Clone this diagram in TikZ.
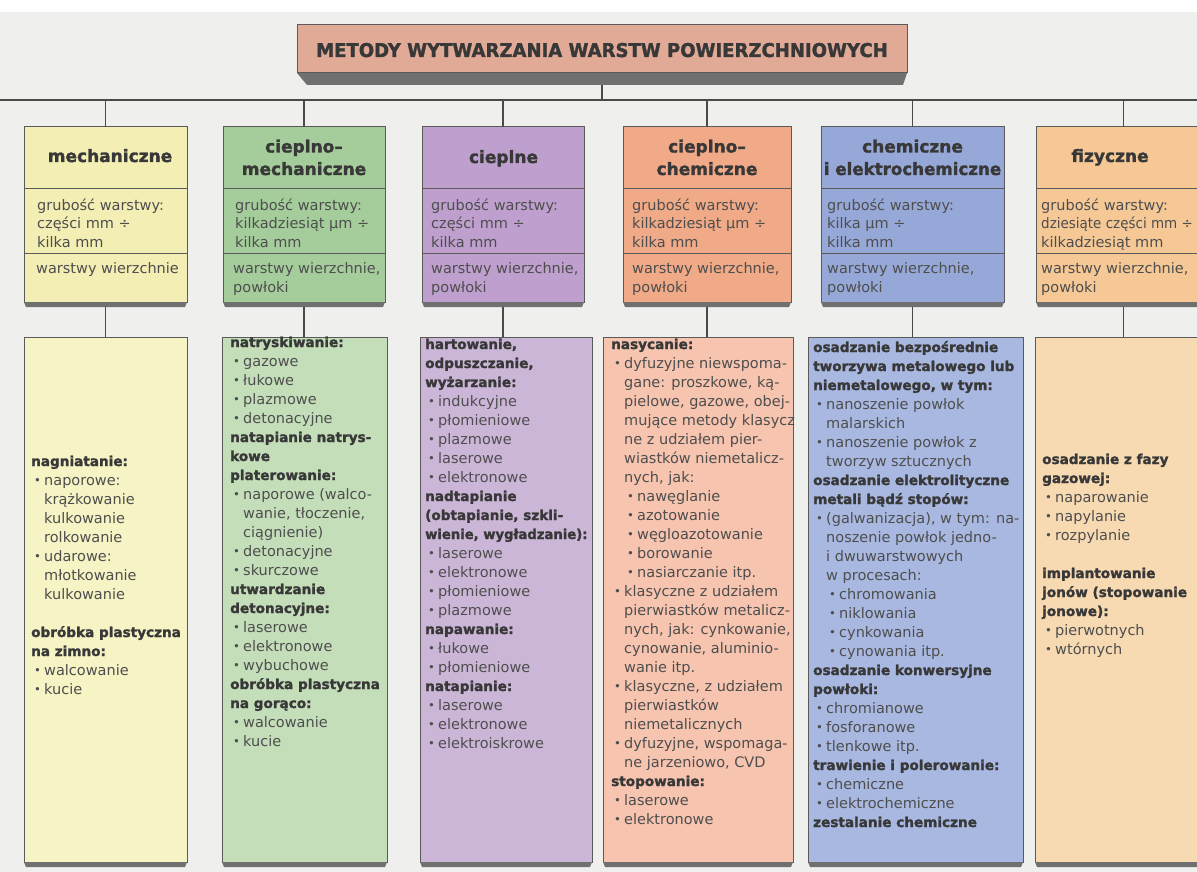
\documentclass[tikz,border=0pt]{standalone}
\usepackage{fontspec}
\setmainfont{DejaVu Sans}
\newfontfamily\heavyfont{DejaVu Sans}[UprightFeatures={FakeBold=1.6}, BoldFeatures={FakeBold=1.6}]
\usetikzlibrary{calc}
\definecolor{bgc}{HTML}{EFEFED}
\definecolor{linec}{HTML}{4A4A4A}
\definecolor{boxline}{HTML}{5A5A5A}
\definecolor{lipc}{HTML}{707070}
\definecolor{hdc}{HTML}{383838}
\definecolor{bodyc}{HTML}{4E4E4E}
\definecolor{titlec}{HTML}{E0AA96}
\definecolor{yH}{HTML}{F3EEB4}\definecolor{yB}{HTML}{F6F3C4}
\definecolor{gH}{HTML}{A5CD9B}\definecolor{gB}{HTML}{C4DEBA}
\definecolor{pH}{HTML}{BE9FCD}\definecolor{pB}{HTML}{CCB6D8}
\definecolor{oH}{HTML}{F0AA87}\definecolor{oB}{HTML}{F6C4AF}
\definecolor{bH}{HTML}{96A8D7}\definecolor{bB}{HTML}{A8B8E0}
\definecolor{tH}{HTML}{F5C896}\definecolor{tB}{HTML}{F7D9B2}
\newcommand\HD[1]{{\heavyfont\fontsize{13.6}{19}\selectfont\bfseries\color{hdc}#1}}
\newcommand\BU{\hspace*{3pt}\makebox[10pt][l]{\raisebox{0.6pt}{\scalebox{0.8}{•}}}}
\newcommand\CT{\hspace*{13pt}}
\newcommand\SBU{\hspace*{16pt}\makebox[10pt][l]{\raisebox{0.6pt}{\scalebox{0.8}{•}}}}
\newcommand\LIP[1]{\fill[lipc] (#1.south west) -- (#1.south east) -- ([shift={(-2pt,-5pt)}]#1.south east) -- ([shift={(2pt,-5pt)}]#1.south west) -- cycle;}
\tikzset{
  sec/.style={draw=boxline, line width=1pt, inner sep=0pt, outer sep=0pt, anchor=north west},
  conn/.style={draw=linec, line width=1.2pt},
  ttl/.style={font=\heavyfont\fontsize{17}{22.5}\selectfont\bfseries, text=hdc, inner sep=0pt, anchor=base},
  htxt/.style={font=\fontsize{14.5}{18.5}\selectfont, text=bodyc, inner sep=0pt, anchor=base west},
  btxt/.style={font=\fontsize{14.5}{19}\selectfont, text=bodyc, inner sep=0pt, anchor=base west},
}
\begin{document}
\begin{tikzpicture}[x=1pt,y=-1pt]
\useasboundingbox (0,0) rectangle (1197,872);
\clip (0,0) rectangle (1197,872);
\fill[bgc] (0,0) rectangle (1197,872);
\fill[white] (0,0) rectangle (1197,12);

% title
\fill[lipc] (297,73) -- (907,73) -- (903,85) -- (307,85) -- cycle;
\node[sec, fill=titlec, minimum width=610pt, minimum height=48pt] (title) at (297,25) {};
\node[anchor=base, inner sep=0pt, text=hdc, font=\heavyfont\fontsize{19}{22}\selectfont\bfseries] (titletxt) at (602,57)
  {\scalebox{0.95}[1]{METODY WYTWARZANIA WARSTW POWIERZCHNIOWYCH}};

% headers
\newcommand\HEAD[4]{%
  \node[sec, fill=#4, minimum width=#3pt, minimum height=61pt] (#1t) at (#2,127) {};
  \node[sec, fill=#4, minimum width=#3pt, minimum height=65pt] (#1g) at (#2,188) {};
  \node[sec, fill=#4, minimum width=#3pt, minimum height=49pt] (#1w) at (#2,253) {};
  \LIP{#1w}}
\HEAD{h1}{24}{163}{yH}
\HEAD{h2}{223}{162}{gH}
\HEAD{h3}{422}{162}{pH}
\HEAD{h4}{623}{168}{oH}
\HEAD{h5}{821}{183}{bH}
\HEAD{h6}{1036}{175}{tH}

% bottom boxes
\newcommand\BOT[4]{%
  \node[sec, fill=#4, minimum width=#3pt, minimum height=525pt] (#1) at (#2,337) {};
  \LIP{#1}}
\BOT{b1}{24}{163}{yB}
\BOT{b2}{222}{165}{gB}
\BOT{b3}{420}{172}{pB}
\BOT{b4}{603}{190}{oB}
\BOT{b5}{808}{215}{bB}
\BOT{b6}{1035}{175}{tB}

% connectors
\coordinate (busL) at (0,100);
\coordinate (busR) at (1197,100);
\draw[conn] (busL) -- (busR);
\draw[conn] ([yshift=-12pt]title.south) -- (title.south |- busL);
\foreach \i in {1,...,6}{
  \draw[conn] (h\i t.north) -- (h\i t.north |- busL);
  \draw[conn] ([yshift=-5pt]h\i w.south) -- (h\i w.south |- b\i.north);
}

% header titles
\node[ttl] (l1) at (110,162) {mechaniczne};
\node[ttl] (l2) at (304,152.5) {\begin{tabular}[t]{@{}c@{}}cieplno–\\mechaniczne\end{tabular}};
\node[ttl] (l3) at (503.5,163) {cieplne};
\node[ttl] (l4) at (707,152.5) {\begin{tabular}[t]{@{}c@{}}cieplno–\\chemiczne\end{tabular}};
\node[ttl] (l5) at (912.5,152.5) {\begin{tabular}[t]{@{}c@{}}chemiczne\\\scalebox{0.98}[1]{i elektrochemiczne}\end{tabular}};
\node[ttl] (l6) at (1110,162) {fizyczne};

% header thickness
\node[htxt] (g1) at (37,210) {\begin{tabular}[t]{@{}l@{}}grubość warstwy:\\części mm ÷\\kilka mm\end{tabular}};
\node[htxt] (g2) at (235,210) {\begin{tabular}[t]{@{}l@{}}grubość warstwy:\\kilkadziesiąt µm ÷\\kilka mm\end{tabular}};
\node[htxt] (g3) at (431,210) {\begin{tabular}[t]{@{}l@{}}grubość warstwy:\\części mm ÷\\kilka mm\end{tabular}};
\node[htxt] (g4) at (632,210) {\begin{tabular}[t]{@{}l@{}}grubość warstwy:\\kilkadziesiąt µm ÷\\kilka mm\end{tabular}};
\node[htxt] (g5) at (827,210) {\begin{tabular}[t]{@{}l@{}}grubość warstwy:\\kilka µm ÷\\kilka mm\end{tabular}};
\node[htxt] (g6) at (1041,210) {\begin{tabular}[t]{@{}l@{}}grubość warstwy:\\\scalebox{0.93}[1]{dziesiąte części mm ÷}\\kilkadziesiąt mm\end{tabular}};

% header layer type
\node[btxt] (w1) at (36,273) {warstwy wierzchnie};
\node[btxt] (w2) at (233,273) {\begin{tabular}[t]{@{}l@{}}warstwy wierzchnie,\\powłoki\end{tabular}};
\node[btxt] (w3) at (431,273) {\begin{tabular}[t]{@{}l@{}}warstwy wierzchnie,\\powłoki\end{tabular}};
\node[btxt] (w4) at (632,273) {\begin{tabular}[t]{@{}l@{}}warstwy wierzchnie,\\powłoki\end{tabular}};
\node[btxt] (w5) at (827,273) {\begin{tabular}[t]{@{}l@{}}warstwy wierzchnie,\\powłoki\end{tabular}};
\node[btxt] (w6) at (1041,273) {\begin{tabular}[t]{@{}l@{}}warstwy wierzchnie,\\powłoki\end{tabular}};

% bottom texts
\node[btxt] (t1) at (31,466) {\begin{tabular}[t]{@{}l@{}}
\HD{nagniatanie:}\\
\BU naporowe:\\
\CT krążkowanie\\
\CT kulkowanie\\
\CT rolkowanie\\
\BU udarowe:\\
\CT młotkowanie\\
\CT kulkowanie\\
\\
\HD{obróbka plastyczna}\\
\HD{na zimno:}\\
\BU walcowanie\\
\BU kucie
\end{tabular}};

\node[btxt] (t2) at (230,347) {\begin{tabular}[t]{@{}l@{}}
\HD{natryskiwanie:}\\
\BU gazowe\\
\BU łukowe\\
\BU plazmowe\\
\BU detonacyjne\\
\HD{natapianie natrys-}\\
\HD{kowe}\\
\HD{platerowanie:}\\
\BU naporowe (walco-\\
\CT wanie, tłoczenie,\\
\CT ciągnienie)\\
\BU detonacyjne\\
\BU skurczowe\\
\HD{utwardzanie}\\
\HD{detonacyjne:}\\
\BU laserowe\\
\BU elektronowe\\
\BU wybuchowe\\
\HD{obróbka plastyczna}\\
\HD{na gorąco:}\\
\BU walcowanie\\
\BU kucie
\end{tabular}};

\node[btxt] (t3) at (425,349) {\begin{tabular}[t]{@{}l@{}}
\HD{hartowanie,}\\
\HD{odpuszczanie,}\\
\HD{wyżarzanie:}\\
\BU indukcyjne\\
\BU płomieniowe\\
\BU plazmowe\\
\BU laserowe\\
\BU elektronowe\\
\HD{nadtapianie}\\
\HD{(obtapianie, szkli-}\\
\HD{\scalebox{0.97}[1]{wienie, wygładzanie):}}\\
\BU laserowe\\
\BU elektronowe\\
\BU płomieniowe\\
\BU plazmowe\\
\HD{napawanie:}\\
\BU łukowe\\
\BU płomieniowe\\
\HD{natapianie:}\\
\BU laserowe\\
\BU elektronowe\\
\BU elektroiskrowe
\end{tabular}};

\node[btxt] (t4) at (611,349) {\begin{tabular}[t]{@{}l@{}}
\HD{nasycanie:}\\
\BU dyfuzyjne niewspoma-\\
\CT gane: proszkowe, ką-\\
\CT pielowe, gazowe, obej-\\
\CT mujące metody klasycz\\
\CT ne z udziałem pier-\\
\CT wiastków niemetalicz-\\
\CT nych, jak:\\
\SBU nawęglanie\\
\SBU azotowanie\\
\SBU węgloazotowanie\\
\SBU borowanie\\
\SBU nasiarczanie itp.\\
\BU klasyczne z udziałem\\
\CT pierwiastków metalicz-\\
\CT nych, jak: cynkowanie,\\
\CT cynowanie, aluminio-\\
\CT wanie itp.\\
\BU klasyczne, z udziałem\\
\CT pierwiastków\\
\CT niemetalicznych\\
\BU dyfuzyjne, wspomaga-\\
\CT ne jarzeniowo, CVD\\
\HD{stopowanie:}\\
\BU laserowe\\
\BU elektronowe
\end{tabular}};

\node[btxt] (t5) at (813,352) {\begin{tabular}[t]{@{}l@{}}
\HD{osadzanie bezpośrednie}\\
\HD{tworzywa metalowego lub}\\
\HD{niemetalowego, w tym:}\\
\BU nanoszenie powłok\\
\CT malarskich\\
\BU nanoszenie powłok z\\
\CT tworzyw sztucznych\\
\HD{osadzanie elektrolityczne}\\
\HD{metali bądź stopów:}\\
\BU (galwanizacja), w tym: na-\\
\CT noszenie powłok jedno-\\
\CT i dwuwarstwowych\\
\CT w procesach:\\
\SBU chromowania\\
\SBU niklowania\\
\SBU cynkowania\\
\SBU cynowania itp.\\
\HD{osadzanie konwersyjne}\\
\HD{powłoki:}\\
\BU chromianowe\\
\BU fosforanowe\\
\BU tlenkowe itp.\\
\HD{trawienie i polerowanie:}\\
\BU chemiczne\\
\BU elektrochemiczne\\
\HD{zestalanie chemiczne}
\end{tabular}};

\node[btxt] (t6) at (1042,464) {\begin{tabular}[t]{@{}l@{}}
\HD{osadzanie z fazy}\\
\HD{gazowej:}\\
\BU naparowanie\\
\BU napylanie\\
\BU rozpylanie\\
\\
\HD{implantowanie}\\
\HD{jonów (stopowanie}\\
\HD{jonowe):}\\
\BU pierwotnych\\
\BU wtórnych
\end{tabular}};
\end{tikzpicture}
\end{document}
